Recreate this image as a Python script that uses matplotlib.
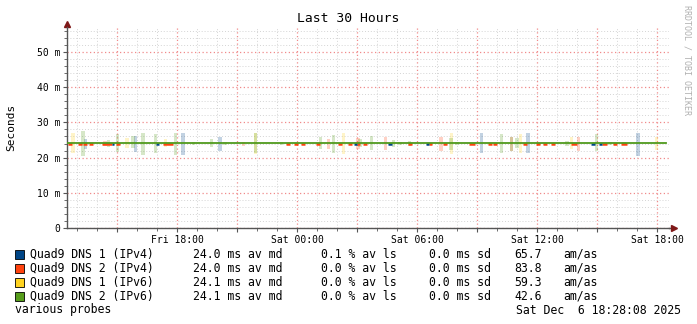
import matplotlib
matplotlib.use("Agg")
import matplotlib.pyplot as plt
from matplotlib.patches import Rectangle

# hours since Fri 00:00
t_start, t_end = 12.47, 42.47
names = ["Quad9 DNS 1 (IPv4)", "Quad9 DNS 2 (IPv4)", "Quad9 DNS 1 (IPv6)", "Quad9 DNS 2 (IPv6)"]
colors = ["#004586", "#FF420E", "#FFD320", "#579D1C"]
av_md = [24.0, 24.0, 24.1, 24.1]
av_ls = [0.1, 0.0, 0.0, 0.0]
sd = [0.0, 0.0, 0.0, 0.0]
am_as = [65.7, 83.8, 59.3, 42.6]

# smoke bars: (time, high, low) per series
smoke_blue = [(13.42, 25.3, 22.4), (15.92, 26.2, 21.5), (18.3, 27.0, 20.7), (20.15, 25.8, 22.0),
              (33.22, 27.0, 21.2), (35.55, 27.0, 21.2), (41.05, 27.0, 20.4)]
smoke_orange = [(14.4, 24.8, 23.4), (21.32, 24.4, 23.4), (25.57, 25.3, 22.5), (27.05, 25.5, 22.5),
                (28.42, 25.8, 22.3), (31.2, 25.8, 22.0), (34.72, 25.8, 22.0), (38.07, 25.9, 22.0)]
smoke_yellow = [(12.8, 26.9, 21.4), (15.5, 25.5, 22.6), (17.42, 25.2, 22.9), (21.92, 27.1, 21.0),
                (26.32, 26.9, 20.9), (31.72, 27.1, 21.0), (35.17, 26.7, 21.2), (37.72, 25.8, 22.35),
                (41.97, 25.8, 22.2)]
smoke_green = [(13.3, 27.6, 20.5), (14.58, 25.0, 23.1), (15.02, 26.7, 21.7), (15.8, 26.0, 22.8),
               (16.3, 26.9, 20.7), (16.92, 26.8, 21.3), (17.92, 26.9, 20.7), (18.82, 24.4, 23.7),
               (19.72, 25.3, 23.1), (20.4, 24.4, 23.7), (21.92, 27.0, 21.2), (23.22, 24.4, 23.7),
               (25.17, 25.8, 22.4), (25.82, 26.4, 21.2), (27.15, 25.2, 23.1), (27.72, 26.0, 22.2),
               (28.82, 25.0, 22.9), (29.15, 24.4, 23.7), (29.62, 24.8, 23.3), (31.7, 25.5, 22.2),
               (32.0, 24.4, 23.7), (34.22, 26.7, 21.2), (34.72, 25.8, 22.0), (35.0, 25.5, 22.6),
               (37.5, 24.8, 23.3), (38.97, 26.7, 22.0), (39.65, 24.4, 23.7), (40.35, 24.4, 23.7)]

# median pieces that peek out under the green line: (start, end, median)
med_orange = [(12.55, 12.75, 23.9), (13.05, 13.25, 23.9), (13.3, 13.5, 23.9), (13.6, 13.8, 23.9),
              (14.25, 14.75, 23.9), (14.95, 15.15, 23.9), (17.3, 17.8, 23.9), (23.45, 23.65, 23.9),
              (23.85, 24.05, 23.9), (24.2, 24.4, 23.9), (24.95, 25.15, 23.9), (26.05, 26.25, 23.9),
              (26.55, 26.75, 23.9), (27.0, 27.15, 23.9), (27.3, 27.5, 23.9), (29.55, 29.75, 23.9),
              (30.6, 30.75, 23.9), (31.3, 31.5, 23.9), (32.6, 32.9, 23.9), (33.55, 33.75, 23.9),
              (33.8, 34.0, 23.9), (35.3, 35.5, 23.9), (35.95, 36.15, 23.9), (36.3, 36.5, 23.9),
              (36.7, 36.9, 23.9), (37.7, 38.0, 23.9), (39.25, 39.5, 23.9), (39.8, 40.0, 23.9),
              (40.2, 40.5, 23.9)]
med_blue = [(14.75, 14.85, 23.9), (16.95, 17.1, 23.9), (26.85, 27.0, 23.9), (28.55, 28.75, 23.9),
            (30.45, 30.6, 23.9), (38.7, 38.9, 23.9), (39.1, 39.25, 23.9)]
med_green = 24.1

xticks_lab = {18: "Fri 18:00", 24: "Sat 00:00", 30: "Sat 06:00", 36: "Sat 12:00", 42: "Sat 18:00"}

mono = "DejaVu Sans Mono"
W, H = 697, 324
fig = plt.figure(figsize=(W / 100, H / 100), dpi=100)
fig.patch.set_facecolor("white")

def fx(x): return x / W
def fy(y): return 1 - y / H

ax = fig.add_axes([fx(67), fy(228), fx(669) - fx(67), fy(27) - fy(228)])
ax.set_xlim(12.5, 42.6)
ax.set_ylim(0, 57.1)

for data, c in [(smoke_blue, colors[0]), (smoke_orange, colors[1]), (smoke_yellow, colors[2]), (smoke_green, colors[3])]:
    for t, hi, lo in data:
        ax.bar(t, hi - lo, bottom=lo, width=0.17, color=c, alpha=0.24, linewidth=0, zorder=2)

for data, c in [(med_orange, colors[1]), (med_blue, colors[0])]:
    for a, b, v in data:
        ax.plot([a, b], [v, v], color=c, lw=1.8, solid_capstyle="butt", zorder=3)
ax.plot([t_start, t_end], [med_green, med_green], color="#4f9a1c", lw=1.3, zorder=4)

# grid
maj = list(range(15, 43, 3))
ax.set_xticks(maj)
ax.set_xticklabels([xticks_lab.get(h, "") for h in maj], fontsize=7, family=mono)
ax.set_xticks(range(13, 43), minor=True)
ax.set_yticks(range(0, 51, 10))
ax.set_yticklabels(["0"] + ["%d m" % v for v in range(10, 51, 10)], fontsize=7, family=mono)
ax.set_yticks(range(0, 57, 2), minor=True)
ax.grid(which="minor", color="#d4d4d4", linestyle=(0, (1, 2)), lw=0.7, zorder=0)
ax.grid(which="major", color="#f08a8a", linestyle=(0, (1, 2)), lw=0.9, zorder=0)
ax.tick_params(which="major", length=3, width=0.8, color="#555555", pad=2)
ax.tick_params(which="minor", length=2, width=0.6, color="#555555")
for s in ["top", "right"]:
    ax.spines[s].set_visible(False)
for s in ["left", "bottom"]:
    ax.spines[s].set_color("#555555")
    ax.spines[s].set_linewidth(1.0)
ax.plot([1.0, 1.008], [0, 0], color="#555555", lw=1.0, transform=ax.transAxes, clip_on=False)
ax.plot(1.008, 0, ">", color="#7f1818", ms=4, transform=ax.transAxes, clip_on=False)
ax.plot(0, 1.015, "^", color="#7f1818", ms=4, transform=ax.transAxes, clip_on=False)

fig.text(fx(348), fy(19), "Last 30 Hours", ha="center", va="center", fontsize=9.4, family=mono)
fig.text(fx(11), fy(127), "Seconds", rotation=90, ha="center", va="center", fontsize=8, family=mono)
fig.text(fx(687), fy(5), "RRDTOOL / TOBI OETIKER", rotation=-90, ha="center", va="top",
         fontsize=6.0, family=mono, color="#b0b0b0")

# legend
rows = [254, 268, 282, 296]
for i, y in enumerate(rows):
    fig.add_artist(Rectangle((fx(15), fy(y + 4.5)), fx(9), 9 / H, transform=fig.transFigure,
                             facecolor=colors[i], edgecolor="black", lw=0.6))
    fig.text(fx(30), fy(y), names[i], va="center", fontsize=8.3, family=mono)
    fig.text(fx(193), fy(y), "%.1f ms av md" % av_md[i], va="center", fontsize=8.3, family=mono)
    fig.text(fx(321), fy(y), "%.1f %% av ls" % av_ls[i], va="center", fontsize=8.3, family=mono)
    fig.text(fx(429), fy(y), "%.1f ms sd" % sd[i], va="center", fontsize=8.3, family=mono)
    fig.text(fx(514), fy(y), "%.1f" % am_as[i], va="center", fontsize=8.3, family=mono)
    fig.text(fx(563), fy(y), "am/as", va="center", fontsize=8.3, family=mono)
fig.text(fx(15), fy(310), "various probes", va="center", fontsize=8.3, family=mono)
fig.text(fx(681), fy(310), "Sat Dec  6 18:28:08 2025", ha="right", va="center", fontsize=8.3, family=mono)

fig.savefig("out.png", dpi=100)
